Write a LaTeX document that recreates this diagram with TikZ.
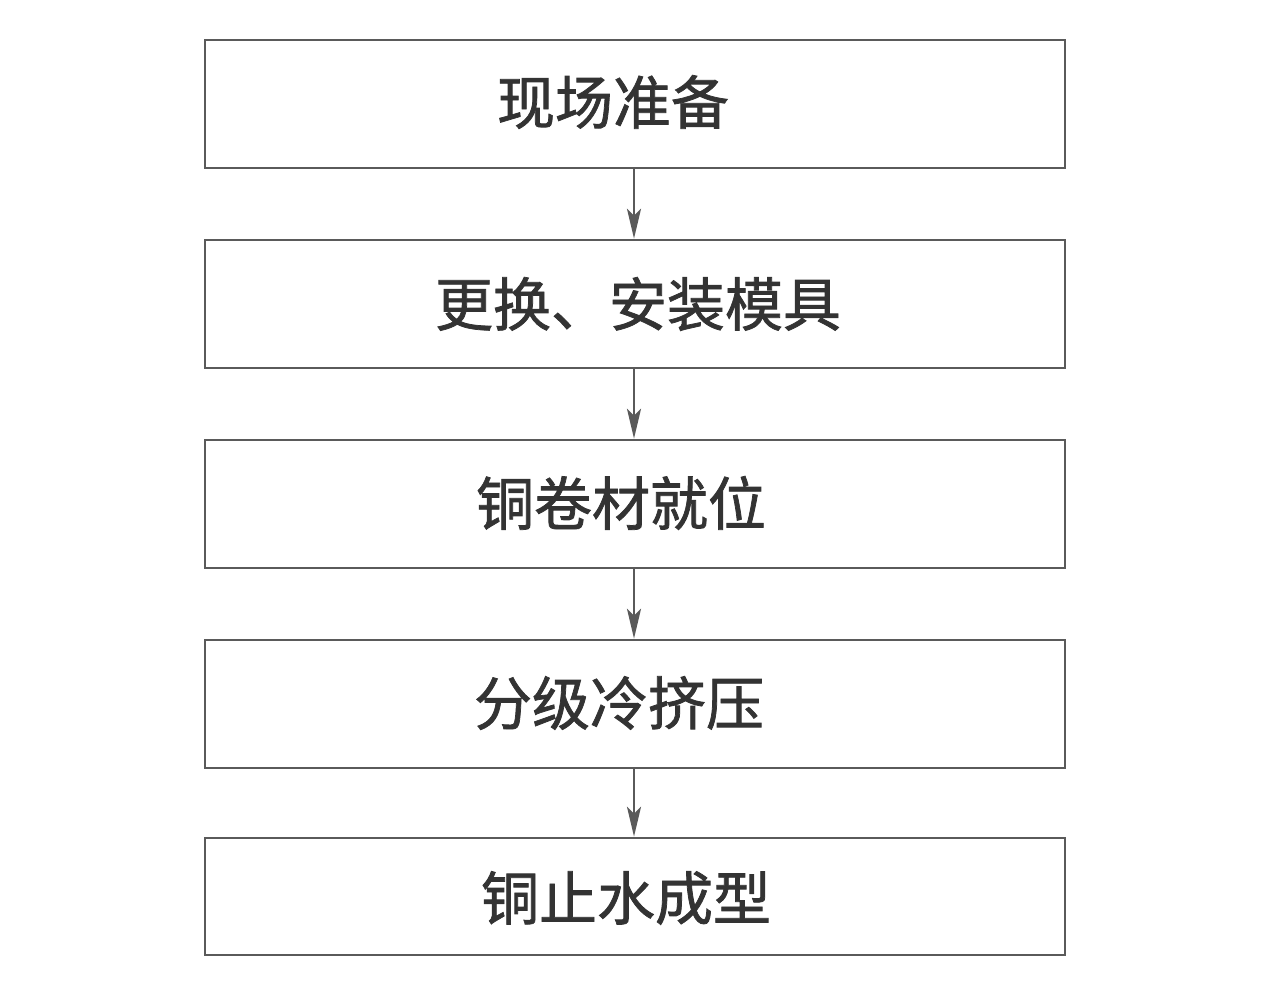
\documentclass[tikz,border=0pt]{standalone}
\usepackage{fontspec}
\newfontfamily\cjk[FakeBold=1.3]{Noto Sans CJK SC}
\usetikzlibrary{arrows.meta}
\definecolor{linegray}{HTML}{5A5A5A}
\definecolor{textgray}{HTML}{333333}
\begin{document}
\begin{tikzpicture}[x=0.02cm,y=-0.02cm,
  stepbox/.style={draw=linegray,line width=1.6pt,minimum width=17.2cm,minimum height=2.56cm,inner sep=0pt},
  steptext/.style={inner sep=0pt,font=\cjk\fontsize{33}{38}\selectfont,text=textgray},
  conn/.style={draw=linegray,line width=1.4pt,-{Stealth[length=17pt,width=8pt,inset=4pt]}}]
\useasboundingbox (0,0) rectangle (1267,999);
\node[stepbox] (s1) at (635,104) {};
\node[stepbox] (s2) at (635,304) {};
\node[stepbox] (s3) at (635,504) {};
\node[stepbox] (s4) at (635,704) {};
\node[stepbox,minimum height=2.34cm] (s5) at (635,896.5) {};
\node[steptext] (t1) at (613,102) {现场准备};
\node[steptext] (t2) at (638,304) {更换、安装模具};
\node[steptext] (t3) at (621,503) {铜卷材就位};
\node[steptext] (t4) at (619,703) {分级冷挤压};
\node[steptext] (t5) at (626,898) {铜止水成型};
\draw[conn] (s1.south -| 634,0) -- (s2.north -| 634,0);
\draw[conn] (s2.south -| 634,0) -- (s3.north -| 634,0);
\draw[conn] (s3.south -| 634,0) -- (s4.north -| 634,0);
\draw[conn] (s4.south -| 634,0) -- (s5.north -| 634,0);
\end{tikzpicture}
\end{document}
